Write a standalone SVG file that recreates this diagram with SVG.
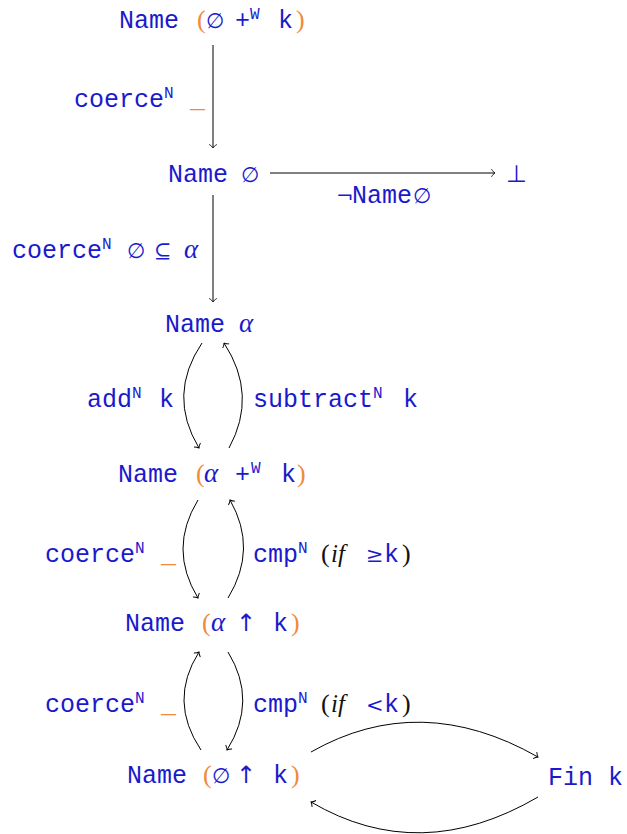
<svg xmlns="http://www.w3.org/2000/svg" width="627" height="834" viewBox="0 0 627 834">
<defs>
<style>
.m{font-family:"Liberation Mono",monospace;font-size:25px;fill:#1a1acc}
.s{font-family:"Liberation Mono",monospace;font-size:16px;fill:#1a1acc}
.y{font-family:"DejaVu Serif","Liberation Serif",serif;font-size:21px;fill:#1a1acc}
.u{font-family:"DejaVu Sans",sans-serif;font-size:24px;fill:#1a1acc}
.o{font-family:"Liberation Serif",serif;font-size:26px;fill:#f08a3c}
.ou{font-family:"Liberation Mono",monospace;font-size:25px;fill:#f08a3c}
.a{font-family:"Liberation Serif",serif;font-style:italic;font-size:27px;fill:#1a1acc}
.i{font-family:"Liberation Serif",serif;font-style:italic;font-size:25px;fill:#111}
.p{font-family:"Liberation Serif",serif;font-size:26px;fill:#111}
.c{fill:none;stroke:#000;stroke-width:1}
</style>
<marker id="ar" markerUnits="userSpaceOnUse" markerWidth="12" markerHeight="12" viewBox="-6 -6 12 12" refX="0" refY="0" orient="auto">
<path d="M-3.5,-3.8 C-2.2,-1.6 -0.8,-0.5 0,0 C-0.8,0.5 -2.2,1.6 -3.5,3.8" fill="none" stroke="#000" stroke-width="0.9"/>
</marker>
</defs>
<g id="connectors">
<path class="c" d="M213,45 L213,148" marker-end="url(#ar)"/>
<path class="c" d="M270,173 L495,173" marker-end="url(#ar)"/>
<path class="c" d="M213,195 L213,302" marker-end="url(#ar)"/>
<path class="c" d="M202,343 Q167,395 199,448" marker-end="url(#ar)"/>
<path class="c" d="M229,448 Q258,395 224,343" marker-end="url(#ar)"/>
<path class="c" d="M198,500 Q168,549 198,598" marker-end="url(#ar)"/>
<path class="c" d="M228,598 Q258,549 230,500" marker-end="url(#ar)"/>
<path class="c" d="M201,750 Q168,701 199,652" marker-end="url(#ar)"/>
<path class="c" d="M228,652 Q258,701 227,750" marker-end="url(#ar)"/>
<path class="c" d="M311,752 Q420,690 538,757" marker-end="url(#ar)"/>
<path class="c" d="M538,797 Q420,866 311,802" marker-end="url(#ar)"/>
</g>
<g id="labels">
<g id="l-coerce1"><text class="m" x="74" y="107">coerce</text><text class="s" x="164" y="98">N</text><text class="ou" x="190" y="107">_</text></g>
<g id="l-notname"><text class="y" x="336" y="203">¬</text><text class="m" x="352" y="203">Name</text><text class="y" x="413" y="203">∅</text></g>
<g id="l-coerce2"><text class="m" x="12" y="258">coerce</text><text class="s" x="102" y="249">N</text><text class="y" x="127" y="258">∅</text><text class="y" x="154" y="258">⊆</text><text class="a" x="184" y="258">α</text></g>
<g id="l-add"><text class="m" x="87" y="407">add</text><text class="s" x="132" y="398">N</text><text class="m" x="159" y="407">k</text></g>
<g id="l-sub"><text class="m" x="253" y="407">subtract</text><text class="s" x="373" y="398">N</text><text class="m" x="403" y="407">k</text></g>
<g id="l-coerce3"><text class="m" x="45" y="562">coerce</text><text class="s" x="135" y="553">N</text><text class="ou" x="161" y="562">_</text></g>
<g id="l-cmp1"><text class="m" x="253" y="562">cmp</text><text class="s" x="298" y="553">N</text><text class="p" x="321" y="562">(</text><text class="i" x="331" y="562">if</text><text class="y" x="366" y="562">≥</text><text class="m" x="384" y="562">k</text><text class="p" x="402" y="562">)</text></g>
<g id="l-coerce4"><text class="m" x="45" y="712">coerce</text><text class="s" x="135" y="703">N</text><text class="ou" x="161" y="712">_</text></g>
<g id="l-cmp2"><text class="m" x="253" y="712">cmp</text><text class="s" x="298" y="703">N</text><text class="p" x="321" y="712">(</text><text class="i" x="331" y="712">if</text><text class="y" x="366" y="712">&lt;</text><text class="m" x="384" y="712">k</text><text class="p" x="402" y="712">)</text></g>
</g>
<g id="n1"><text class="m" x="119" y="28">Name</text><text class="o" x="197" y="28">(</text><text class="y" x="206" y="28">∅</text><text class="m" x="235" y="28">+</text><text class="s" x="250" y="19">W</text><text class="m" x="278" y="28">k</text><text class="o" x="296" y="28">)</text></g>
<g id="n2"><text class="m" x="168" y="182">Name</text><text class="y" x="241" y="182">∅</text></g>
<g id="n-bot"><text class="u" x="506" y="182">⊥</text></g>
<g id="n3"><text class="m" x="165" y="332">Name</text><text class="a" x="239" y="332">α</text></g>
<g id="n4"><text class="m" x="118" y="482">Name</text><text class="o" x="196" y="482">(</text><text class="a" x="204" y="482">α</text><text class="m" x="235" y="482">+</text><text class="s" x="251" y="473">W</text><text class="m" x="281" y="482">k</text><text class="o" x="297" y="482">)</text></g>
<g id="n5"><text class="m" x="125" y="631">Name</text><text class="o" x="202" y="631">(</text><text class="a" x="211" y="631">α</text><text class="u" x="236" y="631">↑</text><text class="m" x="273" y="631">k</text><text class="o" x="291" y="631">)</text></g>
<g id="n6"><text class="m" x="127" y="783">Name</text><text class="o" x="203" y="783">(</text><text class="y" x="212" y="783">∅</text><text class="u" x="236" y="783">↑</text><text class="m" x="273" y="783">k</text><text class="o" x="291" y="783">)</text></g>
<g id="n7"><text class="m" x="548" y="785">Fin k</text></g>
</svg>
